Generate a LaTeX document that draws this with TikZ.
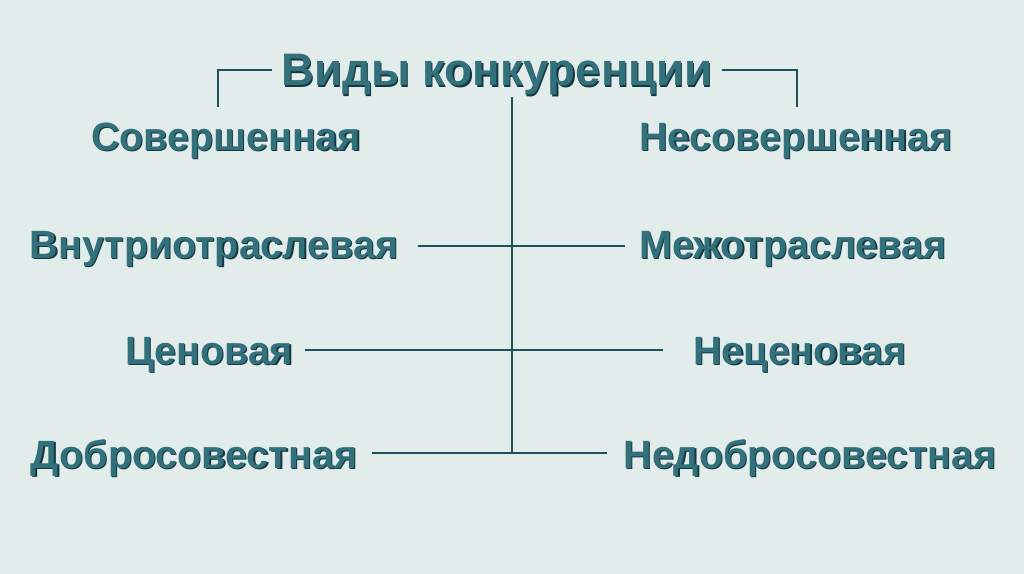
\documentclass[tikz,border=0pt]{standalone}
\usepackage{fontspec}
\setmainfont{Liberation Sans}
\definecolor{bg}{RGB}{226,237,235}
\definecolor{txt}{RGB}{50,112,124}
\definecolor{txtdark}{RGB}{22,55,64}
\definecolor{ln}{RGB}{30,80,90}
\tikzset{
  lbl/.style={font=\bfseries\fontsize{29.6}{32}\selectfont, text=txt, inner sep=0pt},
  ttl/.style={font=\bfseries\fontsize{34.2}{38}\selectfont, text=txt, inner sep=0pt},
  shd/.style={text=txtdark, xshift=0.9pt, yshift=-0.9pt},
  conn/.style={draw=ln, line width=1.3pt},
}
\newcommand{\mylab}[4]{%
  \node[#1,shd] (#2s) at #3 {#4};
  \node[#1] (#2) at #3 {#4};}
\begin{document}
\begin{tikzpicture}[x=0.75pt,y=-0.75pt]
\fill[bg] (0,0) rectangle (1024,574);
\useasboundingbox (0,0) rectangle (1024,574);
% title
\mylab{ttl}{t}{(497,75)}{Виды конкуренции}
% labels
\mylab{lbl}{a1}{(226,141)}{Совершенная}
\mylab{lbl}{b1}{(796,141)}{Несовершенная}
\mylab{lbl}{a2}{(214,249)}{Внутриотраслевая}
\mylab{lbl}{b2}{(793,249)}{Межотраслевая}
\mylab{lbl}{a3}{(209,355)}{Ценовая}
\mylab{lbl}{b3}{(800,355)}{Неценовая}
\mylab{lbl}{a4}{(194,458)}{Добросовестная}
\mylab{lbl}{b4}{(810,458)}{Недобросовестная}
% coordinates
\coordinate (tl) at (272,70);
\coordinate (tlc) at (218,70);
\coordinate (tld) at (218,107);
\coordinate (tr) at (722,70);
\coordinate (trc) at (797,70);
\coordinate (trd) at (797,107);
\coordinate (vt) at (512,97);
\coordinate (vb) at (512,453);
\coordinate (l2) at (418,246);
\coordinate (r2) at (625,246);
\coordinate (l3) at (305,350);
\coordinate (r3) at (663,350);
\coordinate (l4) at (372,453);
\coordinate (r4) at (607,453);
\draw[conn] (tl) -- (tlc) -- (tld);
\draw[conn] (tr) -- (trc) -- (trd);
\draw[conn] (vt) -- (vb);
\draw[conn] (l2) -- (r2);
\draw[conn] (l3) -- (r3);
\draw[conn] (l4) -- (r4);
\end{tikzpicture}
\end{document}
